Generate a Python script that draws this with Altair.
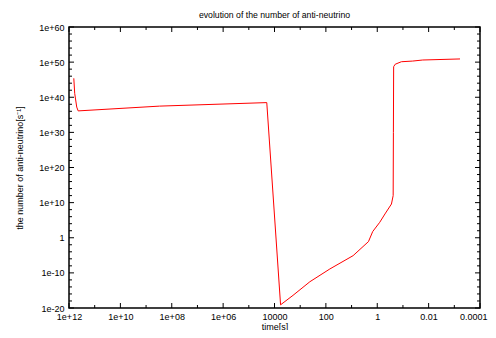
import math
import altair as alt
import pandas as pd

# ---- data ----
time_s = [6.5e11, 6.0e11, 5.0e11, 4.4e11, 3e8, 2e4, 5.8e3, 1.9e3, 4.2e2, 70, 8.7, 2.2, 1.5,
          0.8, 0.5, 0.28, 0.24, 0.235, 0.23, 0.2, 0.115, 0.042, 0.017, 6e-4]
n_antinu = [2.5e45, 1.3e41, 1.6e37, 1.3e36, 3e37, 3e38, 8e-20, 4e-17, 3e-13, 1.3e-9, 8e-6, 0.08, 60,
            2.5e4, 6e6, 4e9, 1e12, 1e30, 5e48, 2.5e49, 1.3e50, 2e50, 4e50, 8e50]

x_major = [1e12, 1e10, 1e8, 1e6, 1e4, 1e2, 1, 1e-2, 1e-4]
x_major_labels = ["1e+12", "1e+10", "1e+08", "1e+06", "10000", "100", "1", "0.01", "0.0001"]
x_minor = [1e11, 1e9, 1e7, 1e5, 1e3, 1e1, 1e-1, 1e-3]
y_major = [1e-20, 1e-10, 1, 1e10, 1e20, 1e30, 1e40, 1e50, 1e60]
y_major_labels = ["1e-20", "1e-10", "1", "1e+10", "1e+20", "1e+30", "1e+40", "1e+50", "1e+60"]
y_minor = [10.0 ** e for e in range(-18, 60, 2) if e % 10 != 0]

W, H = 411, 281
MAJ, MIN = 5, 3
FONT = "Liberation Sans"

def label_expr(values, labels):
    expr = "''"
    for v, l in zip(values, labels):
        e = round(math.log10(v))
        expr = f"round(log(datum.value)/LN10) == {e} ? '{l}' : ({expr})"
    return expr

xscale = alt.Scale(type="log", domain=[1e-4, 1e12], reverse=True)
yscale = alt.Scale(type="log", domain=[1e-20, 1e60])

df = pd.DataFrame({"t": time_s, "n": n_antinu})

line = alt.Chart(df).mark_line(color="#ff0000", strokeWidth=1, clip=True).encode(
    x=alt.X("t:Q", scale=xscale, title="time[s]",
            axis=alt.Axis(values=x_major, labelExpr=label_expr(x_major, x_major_labels),
                          ticks=False, domain=False, grid=False, labelPadding=4,
                          titlePadding=1, labelFlush=False,
                          labelAlign={"condition": {"test": "datum.value < 0.001", "value": "right"},
                                      "value": "center"},
                          labelOffset={"condition": {"test": "datum.value < 0.001", "value": 7},
                                       "value": 0})),
    y=alt.Y("n:Q", scale=yscale, title="the number of anti-neutrino[s⁻¹]",
            axis=alt.Axis(values=y_major, labelExpr=label_expr(y_major, y_major_labels),
                          ticks=False, domain=False, grid=False, labelPadding=5,
                          titlePadding=14, labelFlush=False)),
    order=alt.Order("t:Q", sort="descending"),
)

def xticks(vals, length):
    d = pd.DataFrame({"v": vals})
    b = alt.Chart(d).mark_rule(color="black", strokeWidth=1).encode(
        x=alt.X("v:Q", scale=xscale), y=alt.value(H), y2=alt.value(H - length))
    t = alt.Chart(d).mark_rule(color="black", strokeWidth=1).encode(
        x=alt.X("v:Q", scale=xscale), y=alt.value(0), y2=alt.value(length))
    return [b, t]

def yticks(vals, length):
    d = pd.DataFrame({"v": vals})
    l = alt.Chart(d).mark_rule(color="black", strokeWidth=1).encode(
        y=alt.Y("v:Q", scale=yscale), x=alt.value(0), x2=alt.value(length))
    r = alt.Chart(d).mark_rule(color="black", strokeWidth=1).encode(
        y=alt.Y("v:Q", scale=yscale), x=alt.value(W), x2=alt.value(W - length))
    return [l, r]

layers = [line] + xticks(x_major, MAJ) + xticks(x_minor, MIN) + yticks(y_major, MAJ) + yticks(y_minor, MIN)

chart = alt.layer(*layers).properties(
    width=W, height=H,
    background="white",
    title=alt.TitleParams("evolution of the number of anti-neutrino", fontSize=8.7,
                          font=FONT, fontWeight="normal", color="black", offset=3),
    autosize=alt.AutoSizeParams(type="none"),
    padding={"left": 61, "top": 19, "right": 8, "bottom": 22},
).configure_view(stroke="black", strokeWidth=1.5).configure_axis(
    labelFont=FONT, labelFontSize=9, labelColor="black",
    titleFont=FONT, titleFontSize=9, titleColor="black", titleFontWeight="normal",
)

chart.save("out.html", embed_options={"renderer": "svg", "actions": False})
